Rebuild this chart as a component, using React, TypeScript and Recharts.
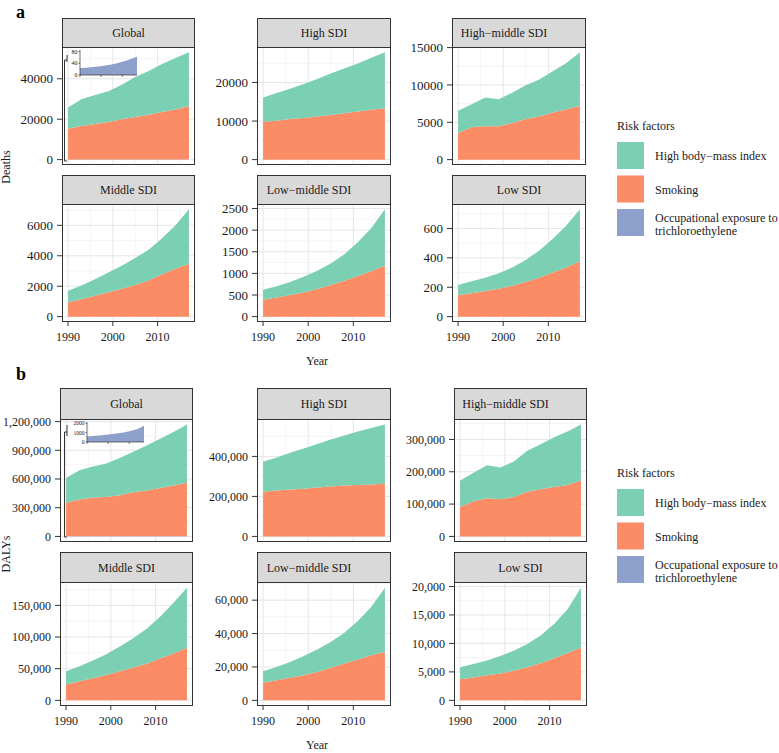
import { Area, AreaChart, CartesianGrid, XAxis, YAxis } from 'recharts';

const years = [1990, 1993, 1996, 1999, 2002, 2005, 2008, 2011, 2014, 2017];

// a: deaths
const deathsGlobalSmoking = [15300, 16600, 17600, 18600, 19900, 21100, 22200, 23500, 24800, 26500];
const deathsGlobalBmi = [10500, 13200, 14400, 15200, 17100, 19700, 21600, 23800, 25400, 26500];
const deathsGlobalTce = [24, 25, 27, 29, 32, 36, 41, 47, 54, 62];
const deathsHighSmoking = [9800, 10100, 10500, 10800, 11200, 11600, 12000, 12500, 12900, 13300];
const deathsHighBmi = [6300, 7200, 7900, 8800, 9700, 10700, 11600, 12400, 13500, 14500];
const deathsHighMidSmoking = [3580, 4330, 4460, 4460, 4900, 5440, 5790, 6320, 6760, 7200];
const deathsHighMidBmi = [2960, 3100, 3850, 3630, 4070, 4510, 4950, 5520, 6190, 7160];
const deathsMidSmoking = [950, 1150, 1380, 1600, 1830, 2080, 2380, 2780, 3150, 3480];
const deathsMidBmi = [750, 900, 1070, 1300, 1520, 1770, 2020, 2370, 2850, 3570];
const deathsLowMidSmoking = [390, 440, 500, 560, 640, 730, 830, 940, 1050, 1180];
const deathsLowMidBmi = [230, 260, 300, 360, 420, 500, 610, 780, 1000, 1300];
const deathsLowSmoking = [145, 160, 175, 190, 210, 235, 265, 300, 335, 378];
const deathsLowBmi = [70, 80, 90, 105, 125, 150, 185, 230, 285, 352];

// b: DALYs
const dalysGlobalSmoking = [350000, 385000, 405000, 410000, 430000, 460000, 480000, 505000, 530000, 560000];
const dalysGlobalBmi = [260000, 305000, 325000, 350000, 390000, 425000, 470000, 515000, 560000, 607000];
const dalysGlobalTce = [600, 650, 710, 780, 860, 950, 1060, 1200, 1400, 1750];
const dalysHighSmoking = [223000, 229000, 234000, 238000, 244000, 250000, 254000, 257000, 260000, 263000];
const dalysHighBmi = [150000, 166000, 184000, 202000, 218000, 235000, 251000, 268000, 282000, 296000];
const dalysHighMidSmoking = [91000, 109000, 118000, 115000, 122000, 138000, 146000, 153000, 159000, 173000];
const dalysHighMidBmi = [82000, 88000, 102000, 98000, 110000, 127000, 139000, 154000, 166000, 173000];
const dalysMidSmoking = [25000, 30000, 35000, 40000, 46000, 52000, 58000, 66000, 74000, 83000];
const dalysMidBmi = [21000, 24000, 28000, 33000, 39000, 46000, 55000, 66000, 80000, 95000];
const dalysLowMidSmoking = [10500, 12000, 13500, 15000, 17000, 19500, 22000, 24500, 27000, 29000];
const dalysLowMidBmi = [7000, 8000, 9500, 11500, 13500, 15500, 18500, 23000, 29000, 38500];
const dalysLowSmoking = [3700, 4000, 4400, 4700, 5200, 5800, 6500, 7400, 8300, 9300];
const dalysLowBmi = [2100, 2400, 2600, 3100, 3500, 4100, 4900, 6000, 7700, 10500];

const yearTicks = [1990, 2000, 2010];
const yearMinor = [1995, 2005, 2015];
const legendLabels = ['High body\u2212mass index', 'Smoking'];

const FONT = '"Liberation Serif", "Times New Roman", serif';
const GREEN = '#7BCFB2';
const ORANGE = '#FC8C65';
const PURPLE = '#8D9FCB';
const INK = '#1a1a1a';
const FRAME = '#333333';

type Facet = {
  title: string;
  smoking: number[];
  bmi: number[];
  tce?: number[];
  ticks: number[];
  shiftTitle?: boolean;
};

const facetsA: Facet[] = [
  { title: 'Global', smoking: deathsGlobalSmoking, bmi: deathsGlobalBmi, tce: deathsGlobalTce, ticks: [0, 20000, 40000] },
  { title: 'High SDI', smoking: deathsHighSmoking, bmi: deathsHighBmi, ticks: [0, 10000, 20000] },
  { title: 'High\u2212middle SDI', smoking: deathsHighMidSmoking, bmi: deathsHighMidBmi, ticks: [0, 5000, 10000, 15000], shiftTitle: true },
  { title: 'Middle SDI', smoking: deathsMidSmoking, bmi: deathsMidBmi, ticks: [0, 2000, 4000, 6000] },
  { title: 'Low\u2212middle SDI', smoking: deathsLowMidSmoking, bmi: deathsLowMidBmi, ticks: [0, 500, 1000, 1500, 2000, 2500], shiftTitle: true },
  { title: 'Low SDI', smoking: deathsLowSmoking, bmi: deathsLowBmi, ticks: [0, 200, 400, 600] },
];

const facetsB: Facet[] = [
  { title: 'Global', smoking: dalysGlobalSmoking, bmi: dalysGlobalBmi, tce: dalysGlobalTce, ticks: [0, 300000, 600000, 900000, 1200000] },
  { title: 'High SDI', smoking: dalysHighSmoking, bmi: dalysHighBmi, ticks: [0, 200000, 400000] },
  { title: 'High\u2212middle SDI', smoking: dalysHighMidSmoking, bmi: dalysHighMidBmi, ticks: [0, 100000, 200000, 300000], shiftTitle: true },
  { title: 'Middle SDI', smoking: dalysMidSmoking, bmi: dalysMidBmi, ticks: [0, 50000, 100000, 150000] },
  { title: 'Low\u2212middle SDI', smoking: dalysLowMidSmoking, bmi: dalysLowMidBmi, ticks: [0, 20000, 40000, 60000], shiftTitle: true },
  { title: 'Low SDI', smoking: dalysLowSmoking, bmi: dalysLowBmi, ticks: [0, 5000, 10000, 15000, 20000] },
];

type Box = { L: number; R: number; S: number; T: number; B: number };

// panel geometry (strip top S, plot top T, plot bottom B)
const colsA = [[62, 195], [257, 391], [452, 586]];
const rowsA = [[18, 47, 165], [175, 204, 322]];
const colsB = [[60, 193], [257, 391], [454, 587]];
const rowsB = [[388, 419, 542], [552, 582, 706]];

const boxes = (cols: number[][], rows: number[][]): Box[] =>
  rows.flatMap(([S, T, B]) => cols.map(([L, R]) => ({ L, R, S, T, B })));

const boxesA = boxes(colsA, rowsA);
const boxesB = boxes(colsB, rowsB);

const plain = (v: number) => String(v);
const comma = (v: number) => v.toLocaleString('en-US');

function Panel({ facet, box, bottom, fmt, yFont }: { facet: Facet; box: Box; bottom: boolean; fmt: (v: number) => string; yFont: number }) {
  const rows = years.map((year, i) => ({
    year,
    tce: facet.tce ? facet.tce[i] : 0,
    smoking: facet.smoking[i],
    bmi: facet.bmi[i],
  }));
  const max = Math.max(...rows.map((r) => r.tce + r.smoking + r.bmi));
  const lo = -0.05 * max;
  const hi = 1.05 * max;
  const step = facet.ticks[1] - facet.ticks[0];
  const minor = facet.ticks.map((t) => t + step / 2).filter((v) => v < hi);
  const yw = 64;
  const pad = 8;
  const xh = bottom ? 28 : 0;
  return (
    <div style={{ position: 'absolute', left: box.L - yw, top: box.T - pad }}>
      <AreaChart
        width={yw + box.R - box.L}
        height={pad + box.B - box.T + (bottom ? xh : pad)}
        data={rows}
        margin={{ top: pad, right: 0, bottom: bottom ? 0 : pad, left: 0 }}
      >
        <CartesianGrid horizontalValues={minor} verticalValues={yearMinor} stroke='#F1F1F1' strokeWidth={0.7} />
        <CartesianGrid horizontalValues={facet.ticks} verticalValues={yearTicks} stroke='#E6E6E6' strokeWidth={1} />
        <XAxis
          dataKey='year'
          type='number'
          domain={[1988.65, 2018.35]}
          ticks={yearTicks}
          interval={0}
          allowDataOverflow
          hide={!bottom}
          height={xh}
          axisLine={false}
          tickLine={{ stroke: FRAME }}
          tickSize={4}
          tickMargin={6}
          tick={{ fontSize: 12, fill: INK, fontFamily: FONT }}
        />
        <YAxis
          type='number'
          domain={[lo, hi]}
          ticks={facet.ticks}
          interval={0}
          allowDataOverflow
          width={yw}
          axisLine={false}
          tickLine={{ stroke: FRAME }}
          tickSize={5}
          tickMargin={4}
          tickFormatter={fmt}
          tick={{ fontSize: yFont, fill: INK, fontFamily: FONT }}
        />
        {facet.tce && (
          <Area type='linear' dataKey='tce' stackId='s' stroke='none' fill={PURPLE} fillOpacity={1} isAnimationActive={false} />
        )}
        <Area type='linear' dataKey='smoking' stackId='s' stroke='none' fill={ORANGE} fillOpacity={1} isAnimationActive={false} />
        <Area type='linear' dataKey='bmi' stackId='s' stroke='none' fill={GREEN} fillOpacity={1} isAnimationActive={false} />
      </AreaChart>
    </div>
  );
}

function Inset({ values, ticks, left, top, width, height, max, font }: { values: number[]; ticks: number[]; left: number; top: number; width: number; height: number; max: number; font: number }) {
  const rows = years.map((year, i) => ({ year, tce: values[i] }));
  const yw = 14;
  const pad = 4;
  return (
    <div style={{ position: 'absolute', left: left - yw, top: top - pad }}>
      <AreaChart width={yw + width} height={pad + height + 3} data={rows} margin={{ top: pad, right: 0, bottom: 0, left: 0 }}>
        <XAxis
          dataKey='year'
          type='number'
          domain={[1990, 2017]}
          ticks={yearTicks}
          interval={0}
          height={3}
          tickSize={2}
          tickFormatter={() => ''}
          axisLine={{ stroke: FRAME, strokeWidth: 0.7 }}
          tickLine={{ stroke: FRAME, strokeWidth: 0.7 }}
        />
        <YAxis
          type='number'
          domain={[0, max]}
          ticks={ticks}
          interval={0}
          width={yw}
          tickSize={1.5}
          tickMargin={1}
          axisLine={{ stroke: FRAME, strokeWidth: 0.7 }}
          tickLine={{ stroke: FRAME, strokeWidth: 0.7 }}
          tick={{ fontSize: font, fill: INK, fontFamily: FONT }}
        />
        <Area type='linear' dataKey='tce' stroke='none' fill={PURPLE} fillOpacity={1} isAnimationActive={false} />
      </AreaChart>
    </div>
  );
}

function Frames({ facets, boxes }: { facets: Facet[]; boxes: Box[] }) {
  return (
    <>
      {facets.map((f, i) => {
        const b = boxes[i];
        const cx = (b.L + b.R) / 2 - (f.shiftTitle ? 15 : 0);
        return (
          <g key={f.title + i}>
            <rect x={b.L + 0.5} y={b.S + 0.5} width={b.R - b.L - 1} height={b.T - b.S} fill='#D9D9D9' stroke={FRAME} strokeWidth={1} />
            <text x={cx} y={(b.S + b.T) / 2 + 4.5} textAnchor='middle' fontSize={12} fill={INK}>
              {f.title}
            </text>
            <rect x={b.L + 0.5} y={b.T + 0.5} width={b.R - b.L - 1} height={b.B - b.T - 1} fill='none' stroke={FRAME} strokeWidth={1} />
          </g>
        );
      })}
    </>
  );
}

function Legend({ top }: { top: number }) {
  const colors = [GREEN, ORANGE, PURPLE];
  return (
    <g>
      <text x={617} y={top + 4} fontSize={12} fill={INK}>Risk factors</text>
      {colors.map((c, i) => (
        <rect key={c} x={617} y={top + 16 + i * 33.5} width={27} height={27} fill={c} />
      ))}
      {legendLabels.map((t, i) => (
        <text key={t} x={655} y={top + 34 + i * 33.5} fontSize={12} fill={INK}>{t}</text>
      ))}
      <text x={655} y={top + 96} fontSize={12} fill={INK}>Occupational exposure to</text>
      <text x={655} y={top + 109} fontSize={12} fill={INK}>trichloroethylene</text>
    </g>
  );
}

export default function App() {
  return (
    <div style={{ position: 'absolute', left: 0, top: 0, width: 779, height: 753, background: '#fff', fontFamily: FONT, overflow: 'hidden' }}>
      {facetsA.map((f, i) => (
        <Panel key={'a' + i} facet={f} box={boxesA[i]} bottom={i >= 3} fmt={plain} yFont={13} />
      ))}
      {facetsB.map((f, i) => (
        <Panel key={'b' + i} facet={f} box={boxesB[i]} bottom={i >= 3} fmt={comma} yFont={12} />
      ))}
      <Inset values={deathsGlobalTce} ticks={[0, 40, 80]} left={80} top={50} width={57} height={25} max={85} font={6} />
      <Inset values={dalysGlobalTce} ticks={[0, 1000, 2000]} left={87} top={422} width={57} height={20} max={2150} font={5.5} />
      <svg width={779} height={753} style={{ position: 'absolute', left: 0, top: 0, pointerEvents: 'none', fontFamily: FONT }}>
        <Frames facets={facetsA} boxes={boxesA} />
        <Frames facets={facetsB} boxes={boxesB} />
        <path d='M67,55 L67,62 M67,60 L64.5,60 L64.5,161 L67,161' stroke={FRAME} strokeWidth={1} fill='none' />
        <path d='M67,425 L67,436 M67,432 L64.5,432 L64.5,537 L67,537' stroke={FRAME} strokeWidth={1} fill='none' />
        <text x={16} y={18} fontSize={18} fontWeight='bold' fill='#000'>a</text>
        <text x={16} y={380} fontSize={18} fontWeight='bold' fill='#000'>b</text>
        <text x={10} y={167} fontSize={12} fill={INK} textAnchor='middle' transform='rotate(-90 10 167)'>Deaths</text>
        <text x={10} y={554} fontSize={12} fill={INK} textAnchor='middle' transform='rotate(-90 10 554)'>DALYs</text>
        <text x={317} y={365} fontSize={12} fill={INK} textAnchor='middle'>Year</text>
        <text x={317} y={749} fontSize={12} fill={INK} textAnchor='middle'>Year</text>
        <Legend top={126} />
        <Legend top={473} />
      </svg>
    </div>
  );
}
